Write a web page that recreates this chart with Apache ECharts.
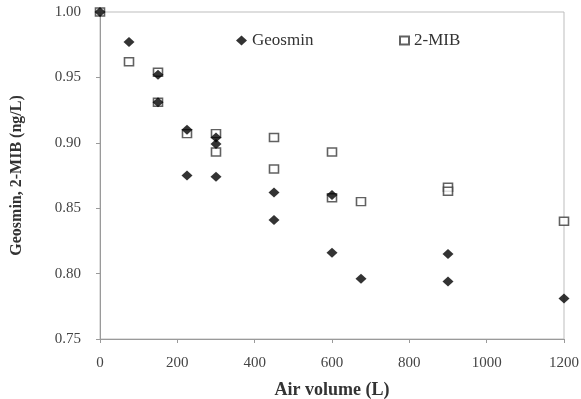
<!DOCTYPE html>
<html>
<head>
<meta charset="utf-8">
<script src="https://cdn.jsdelivr.net/npm/echarts@6/dist/echarts.min.js"></script>
<style>
  html, body { margin: 0; padding: 0; background: #fff; }
  #chart { width: 581px; height: 399px; }
</style>
</head>
<body>
<div id="chart"></div>
<script>
// Air volume (L) passed through the sample, and residual concentration (ng/L)
const geosminVolume = [0, 75, 150, 150, 225, 225, 300, 300, 300, 450, 450, 600, 600, 675, 900, 900, 1200];
const geosminConc   = [1.000, 0.977, 0.952, 0.931, 0.910, 0.875, 0.904, 0.899, 0.874, 0.862, 0.841, 0.860, 0.816, 0.796, 0.815, 0.794, 0.781];

const mibVolume = [0, 75, 150, 150, 225, 300, 300, 450, 450, 600, 600, 675, 900, 900, 1200];
const mibConc   = [1.000, 0.962, 0.954, 0.931, 0.907, 0.907, 0.893, 0.904, 0.880, 0.893, 0.858, 0.855, 0.866, 0.863, 0.840];

const xTicks = [0, 200, 400, 600, 800, 1000, 1200];
const yTicks = [0.75, 0.80, 0.85, 0.90, 0.95, 1.00];

const pairs = (xs, ys) => xs.map((x, i) => [x, ys[i]]);

const serif = "'Liberation Serif', 'DejaVu Serif', serif";
const axisGray = '#9a9a9a';
const labelColor = '#444';

const chart = echarts.init(document.getElementById('chart'), null, { renderer: 'canvas' });

chart.setOption({
  animation: false,
  backgroundColor: '#fff',
  grid: {
    left: 100, top: 12, right: 17, bottom: 60,
    outerBoundsMode: 'none', containLabel: false,
    show: true, borderColor: '#bdbdbd', borderWidth: 1
  },
  legend: [
    {
      data: ['Geosmin'], left: 231, top: 27,
      itemWidth: 11, itemHeight: 10, itemGap: 0,
      textStyle: { fontFamily: serif, fontSize: 17, color: '#333' }
    },
    {
      data: ['2-MIB'], left: 394, top: 27,
      itemWidth: 9, itemHeight: 8, itemGap: 0,
      textStyle: { fontFamily: serif, fontSize: 17, color: '#333' }
    }
  ],
  xAxis: {
    type: 'value',
    min: xTicks[0], max: xTicks[xTicks.length - 1], interval: 200,
    name: 'Air volume (L)', nameLocation: 'middle', nameGap: 42,
    nameTextStyle: { fontFamily: serif, fontSize: 18, fontWeight: 'bold', color: '#333' },
    axisLine: { show: true, lineStyle: { color: axisGray } },
    axisTick: { show: true, inside: false, length: 4, lineStyle: { color: axisGray } },
    axisLabel: {
      fontFamily: serif, fontSize: 15, color: labelColor, margin: 17,
      formatter: v => String(v)
    },
    splitLine: { show: false }
  },
  yAxis: {
    type: 'value',
    min: yTicks[0], max: yTicks[yTicks.length - 1], interval: 0.05,
    name: 'Geosmin, 2-MIB (ng/L)', nameLocation: 'middle', nameGap: 75, nameRotate: 90,
    nameTextStyle: { fontFamily: serif, fontSize: 16, fontWeight: 'bold', color: '#333' },
    axisLine: { show: true, lineStyle: { color: axisGray } },
    axisTick: { show: true, inside: false, length: 4, lineStyle: { color: axisGray } },
    axisLabel: {
      fontFamily: serif, fontSize: 15, color: labelColor, margin: 19,
      formatter: v => v.toFixed(2)
    },
    splitLine: { show: false }
  },
  series: [
    {
      name: '2-MIB', type: 'scatter',
      symbol: 'rect', symbolSize: [9, 8],
      itemStyle: { color: '#fff', borderColor: '#3a3a3a', borderWidth: 1.5 },
      data: pairs(mibVolume, mibConc), z: 2
    },
    {
      name: 'Geosmin', type: 'scatter',
      symbol: 'diamond', symbolSize: [11, 10],
      itemStyle: { color: '#000' },
      data: pairs(geosminVolume, geosminConc), z: 3
    }
  ]
});
</script>
</body>
</html>
